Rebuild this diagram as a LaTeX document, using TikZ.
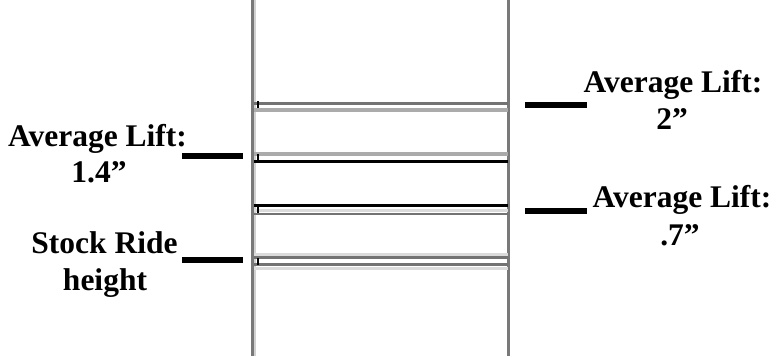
\documentclass[tikz,border=0pt]{standalone}
\usepackage{fontspec}
\setmainfont{Liberation Serif}
\begin{document}
\begin{tikzpicture}[x=1pt,y=-1pt,
  lbl/.style={anchor=base,inner sep=0pt,font=\fontsize{31.5}{36}\selectfont\bfseries},
  bar/.style={line width=6pt,black},
  side/.style={line width=2.6pt,draw=gray!95!black},
  sidelight/.style={line width=2.4pt,draw=black!18},
  darkedge/.style={line width=2.6pt,draw=black!55},
  lightedge/.style={line width=4pt,draw=black!33},
  paleedge/.style={line width=3pt,draw=black!14},
  blackedge/.style={line width=2.2pt,draw=black},
  tick/.style={line width=2pt,draw=black}]
\useasboundingbox[fill=white] (0,0) rectangle (776,356);
% column sides
\draw[sidelight] (255,0) -- (255,356);
\draw[side] (252.3,0) -- (252.3,356);
\draw[side] (508.7,0) -- (508.7,356);
% box edges
\draw[darkedge] (253.5,103.5) -- (507.5,103.5);
\draw[lightedge] (253.5,109.5) -- (507.5,109.5);
\draw[lightedge] (253.5,153.5) -- (507.5,153.5);
\draw[blackedge] (253.5,161.5) -- (507.5,161.5);
\draw[blackedge] (253.5,205.5) -- (507.5,205.5);
\draw[paleedge] (253.5,210.5) -- (507.5,210.5);
\draw[darkedge] (253.5,214) -- (507.5,214);
\draw[paleedge] (253.5,254.5) -- (507.5,254.5);
\draw[darkedge] (253.5,257.5) -- (507.5,257.5);
\draw[darkedge] (253.5,264.5) -- (507.5,264.5);
\draw[paleedge] (253.5,268) -- (507.5,268);
% small ticks
\draw[tick] (258,101) -- (258,108);
\draw[tick] (258,154) -- (258,160);
\draw[tick] (258,207) -- (258,213);
\draw[tick] (258,258) -- (258,265);
% labels
\node[lbl] (l1a) at (97.5,146) {Average Lift:};
\node[lbl] (l1b) at (99,182) {1.4”};
\node[lbl] (l2a) at (104.5,253) {Stock Ride};
\node[lbl] (l2b) at (105,290) {height};
\node[lbl] (r1a) at (673,92) {Average Lift:};
\node[lbl] (r1b) at (672,129) {2”};
\node[lbl] (r2a) at (682,207) {Average Lift:};
\node[lbl] (r2b) at (680,245) {.7”};
% leader bars
\coordinate (a1) at (182,156); \coordinate (b1) at (243,156);
\coordinate (a2) at (182,259.5); \coordinate (b2) at (243,259.5);
\coordinate (a3) at (525,105); \coordinate (b3) at (587,105);
\coordinate (a4) at (525,210.5); \coordinate (b4) at (587,210.5);
\draw[bar] (a1) -- (b1);
\draw[bar] (a2) -- (b2);
\draw[bar] (a3) -- (b3);
\draw[bar] (a4) -- (b4);
\end{tikzpicture}
\end{document}
